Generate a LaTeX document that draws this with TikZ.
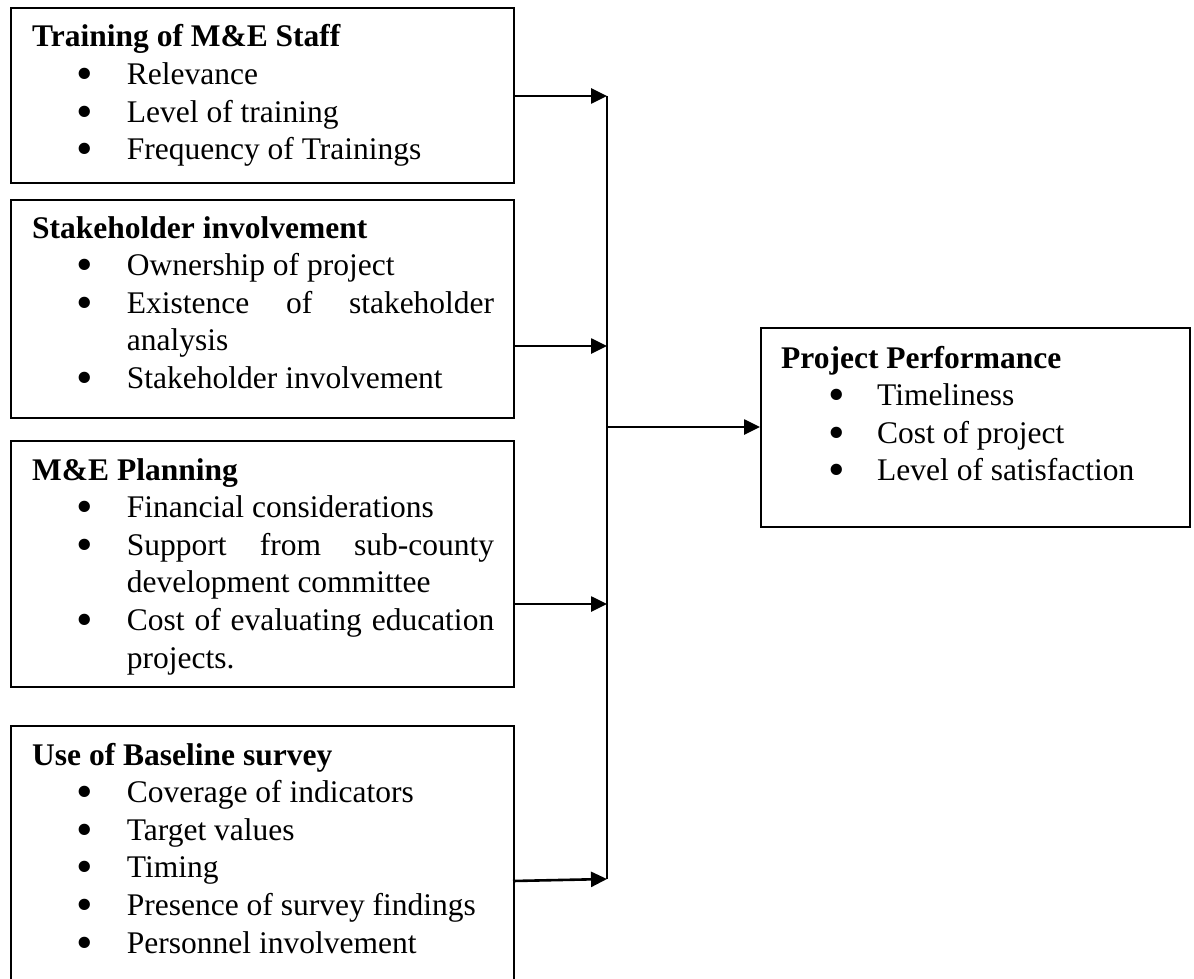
\documentclass[tikz,border=0pt]{standalone}
\usepackage{fontspec}
\setmainfont{Liberation Serif}
\usetikzlibrary{arrows.meta}

% bullet dot, centred on the current point
\newcommand{\dotmark}{\makebox[0pt][c]{\raisebox{-0.16em}{\scalebox{1.5}{\textbullet}}}}
\newlength{\bulpos}\setlength{\bulpos}{53pt}
\newlength{\txtpos}\setlength{\txtpos}{94.7pt}
% one bulleted entry with a hanging indent
\newcommand{\entry}[1]{\par\hangindent=\txtpos\hangafter=1\noindent
  \makebox[\txtpos][l]{\hspace*{\bulpos}\dotmark}#1}
% a titled list, first baseline at the node's base anchor
\newcommand{\blocktext}[3]{\parbox[t]{#1}{\fontsize{31.5}{37.6}\selectfont
  \tolerance=10000\hyphenpenalty=10000\exhyphenpenalty=10000
  \textbf{#2}#3}}

\begin{document}
\begin{tikzpicture}[x=1pt,y=-1pt,
  box/.style={draw=black,line width=2pt,rectangle,inner sep=0pt,anchor=north west},
  label/.style={anchor=base west,inner sep=0pt},
  arrow/.style={line width=2.6pt,-{Triangle[length=16pt,width=15pt]}},
  bus/.style={line width=2.2pt}]
\useasboundingbox (0,0) rectangle (1194,979);
\fill[white] (0,0) rectangle (1194,979);
\clip (0,0) rectangle (1194,979);

% independent variable boxes
\node[box,minimum width=503.5pt,minimum height=175pt] (train) at (9.5,7) {};
\node[box,minimum width=503.5pt,minimum height=218pt] (stake) at (9.5,199) {};
\node[box,minimum width=503.5pt,minimum height=246pt] (plan) at (9.5,440) {};
\node[box,minimum width=503.5pt,minimum height=275pt] (base) at (9.5,725) {};
% dependent variable box
\node[box,minimum width=429pt,minimum height=199pt] (perf) at (760,327) {};

% box texts
\node[label] (train-t) at (32,47) {\blocktext{462pt}{Training of M\&E Staff}{%
  \entry{Relevance}
  \entry{Level of training}
  \entry{Frequency of Trainings}}};
\node[label] (stake-t) at (32,238) {\blocktext{462pt}{Stakeholder involvement}{%
  \entry{Ownership of project}
  \entry{Existence of stakeholder\linebreak analysis}
  \entry{Stakeholder involvement}}};
\node[label] (plan-t) at (32,480) {\blocktext{462pt}{M\&E Planning}{%
  \entry{Financial considerations}
  \entry{Support from sub-county\linebreak development committee}
  \entry{Cost of evaluating education\linebreak projects.}}};
\node[label] (base-t) at (32,765) {\blocktext{462pt}{Use of Baseline survey}{%
  \entry{Coverage of indicators}
  \entry{Target values}
  \entry{Timing}
  \entry{Presence of survey findings}
  \entry{Personnel involvement}}};
\node[label] (perf-t) at (781,368) {\setlength{\bulpos}{56pt}\setlength{\txtpos}{96pt}%
  \blocktext{400pt}{Project Performance}{%
  \entry{Timeliness}
  \entry{Cost of project}
  \entry{Level of satisfaction}}};

% junction points on the collecting line
\coordinate (j1) at (607,96);
\coordinate (j2) at (607,346);
\coordinate (j3) at (607,604);
\coordinate (j4) at (607,879);
\coordinate (jp) at (607,427);
\coordinate (s4) at (513,881);

% connectors
\draw[arrow] (train.east |- j1) -- (j1);
\draw[arrow] (stake.east |- j2) -- (j2);
\draw[arrow] (plan.east |- j3) -- (j3);
\draw[arrow] (s4) -- (j4);
\draw[bus] (j1) -- (j4);
\draw[arrow] (jp) -- (perf.west |- jp);
\end{tikzpicture}
\end{document}
